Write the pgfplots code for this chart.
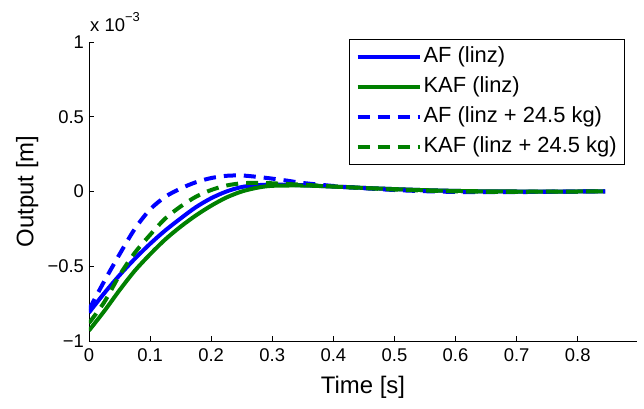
\documentclass[border=0pt]{standalone}
\usepackage{fontspec}
\setmainfont{Liberation Sans}
\usepackage{pgfplots}
\pgfplotsset{compat=1.18}
\definecolor{mblue}{RGB}{0,0,255}
\definecolor{mgreen}{RGB}{0,128,0}
\begin{document}
\begin{tikzpicture}
\begin{axis}[
  name=ax,
  scale only axis, width=548bp, height=299bp,
  xmin=0, xmax=0.897, ymin=-1, ymax=1,
  axis x line*=bottom, axis y line*=left,
  axis line style={-, line width=0.6bp},
  tick style={line width=0.6bp, black},
  tick align=inside, major tick length=5bp,
  xtick={0,0.1,0.2,0.3,0.4,0.5,0.6,0.7,0.8},
  xticklabels={0,0.1,0.2,0.3,0.4,0.5,0.6,0.7,0.8},
  ytick={-1,-0.5,0,0.5,1},
  yticklabels={−1,−0.5,0,0.5,1},
  tick label style={font=\fontsize{18.5}{22}\selectfont},
  xticklabel style={yshift=-4bp},
  yticklabel style={xshift=-1.5bp},
  xlabel={Time [s]}, ylabel={Output [m]},
  label style={font=\fontsize{24}{28}\selectfont},
  xlabel style={at={(axis description cs:0.5,-0.154)}, anchor=center},
  ylabel style={at={(axis description cs:-0.113,0.5)}, anchor=center},
  legend style={at={(0.978,1.01)}, anchor=north east, draw=black, line width=0.6bp,
    font=\fontsize{22}{26}\selectfont, inner xsep=6bp, inner ysep=5bp,
    nodes={text height=16bp, text depth=5bp, inner sep=2bp}, row sep=5bp},
  legend cell align=left,
  legend image code/.code={\draw[#1] (0bp,0bp) -- (62bp,0bp);},
]
\addplot[mblue, line width=4bp, smooth] coordinates {
(0,-0.81) (0.025,-0.68) (0.05,-0.56) (0.075,-0.45) (0.1,-0.35) (0.125,-0.26)
(0.15,-0.18) (0.175,-0.105) (0.2,-0.045) (0.225,0.0) (0.25,0.03) (0.275,0.042)
(0.3,0.046) (0.35,0.042) (0.4,0.033) (0.45,0.024) (0.5,0.016) (0.55,0.009)
(0.6,0.004) (0.65,0.001) (0.7,0) (0.75,-0.001) (0.8,0) (0.845,0)};
\addlegendentry{AF (linz)}
\addplot[mgreen, line width=4bp, smooth] coordinates {
(0,-0.93) (0.025,-0.80) (0.05,-0.66) (0.075,-0.53) (0.1,-0.42) (0.125,-0.32)
(0.15,-0.235) (0.175,-0.16) (0.2,-0.095) (0.225,-0.04) (0.25,0.0) (0.275,0.025)
(0.3,0.038) (0.35,0.04) (0.4,0.033) (0.45,0.024) (0.5,0.016) (0.55,0.009)
(0.6,0.004) (0.65,0.001) (0.7,0) (0.75,-0.001) (0.8,0) (0.845,0)};
\addlegendentry{KAF (linz)}
\addplot[mblue, line width=4bp, dash pattern=on 12bp off 8bp, smooth] coordinates {
(0,-0.79) (0.025,-0.60) (0.05,-0.42) (0.075,-0.25) (0.1,-0.12) (0.125,-0.035)
(0.15,0.02) (0.175,0.062) (0.2,0.09) (0.225,0.105) (0.25,0.107) (0.275,0.098)
(0.3,0.086) (0.325,0.072) (0.35,0.057) (0.4,0.037) (0.45,0.022) (0.5,0.01)
(0.55,0.002) (0.6,-0.003) (0.65,-0.005) (0.7,-0.004) (0.75,-0.002) (0.8,0) (0.845,0)};
\addlegendentry{AF (linz + 24.5 kg)}
\addplot[mgreen, line width=4bp, dash pattern=on 12bp off 8bp, smooth] coordinates {
(0,-0.88) (0.025,-0.74) (0.05,-0.56) (0.075,-0.41) (0.1,-0.29) (0.125,-0.18)
(0.15,-0.10) (0.175,-0.035) (0.2,0.01) (0.225,0.04) (0.25,0.055) (0.275,0.058)
(0.3,0.055) (0.35,0.045) (0.4,0.034) (0.45,0.023) (0.5,0.013) (0.55,0.006)
(0.6,0.001) (0.65,-0.002) (0.7,-0.002) (0.75,-0.001) (0.8,0) (0.845,0)};
\addlegendentry{KAF (linz + 24.5 kg)}
\end{axis}
\node[anchor=base west, font=\fontsize{18.5}{22}\selectfont, inner sep=0pt]
  at ([shift={(1bp,10bp)}]ax.north west)
  {x 10\raisebox{0.55em}{\fontsize{13}{15}\selectfont −3}};
\path ([shift={(-89bp,-68bp)}]ax.south west) rectangle ([shift={(7bp,42bp)}]ax.north east);
\end{tikzpicture}
\end{document}
